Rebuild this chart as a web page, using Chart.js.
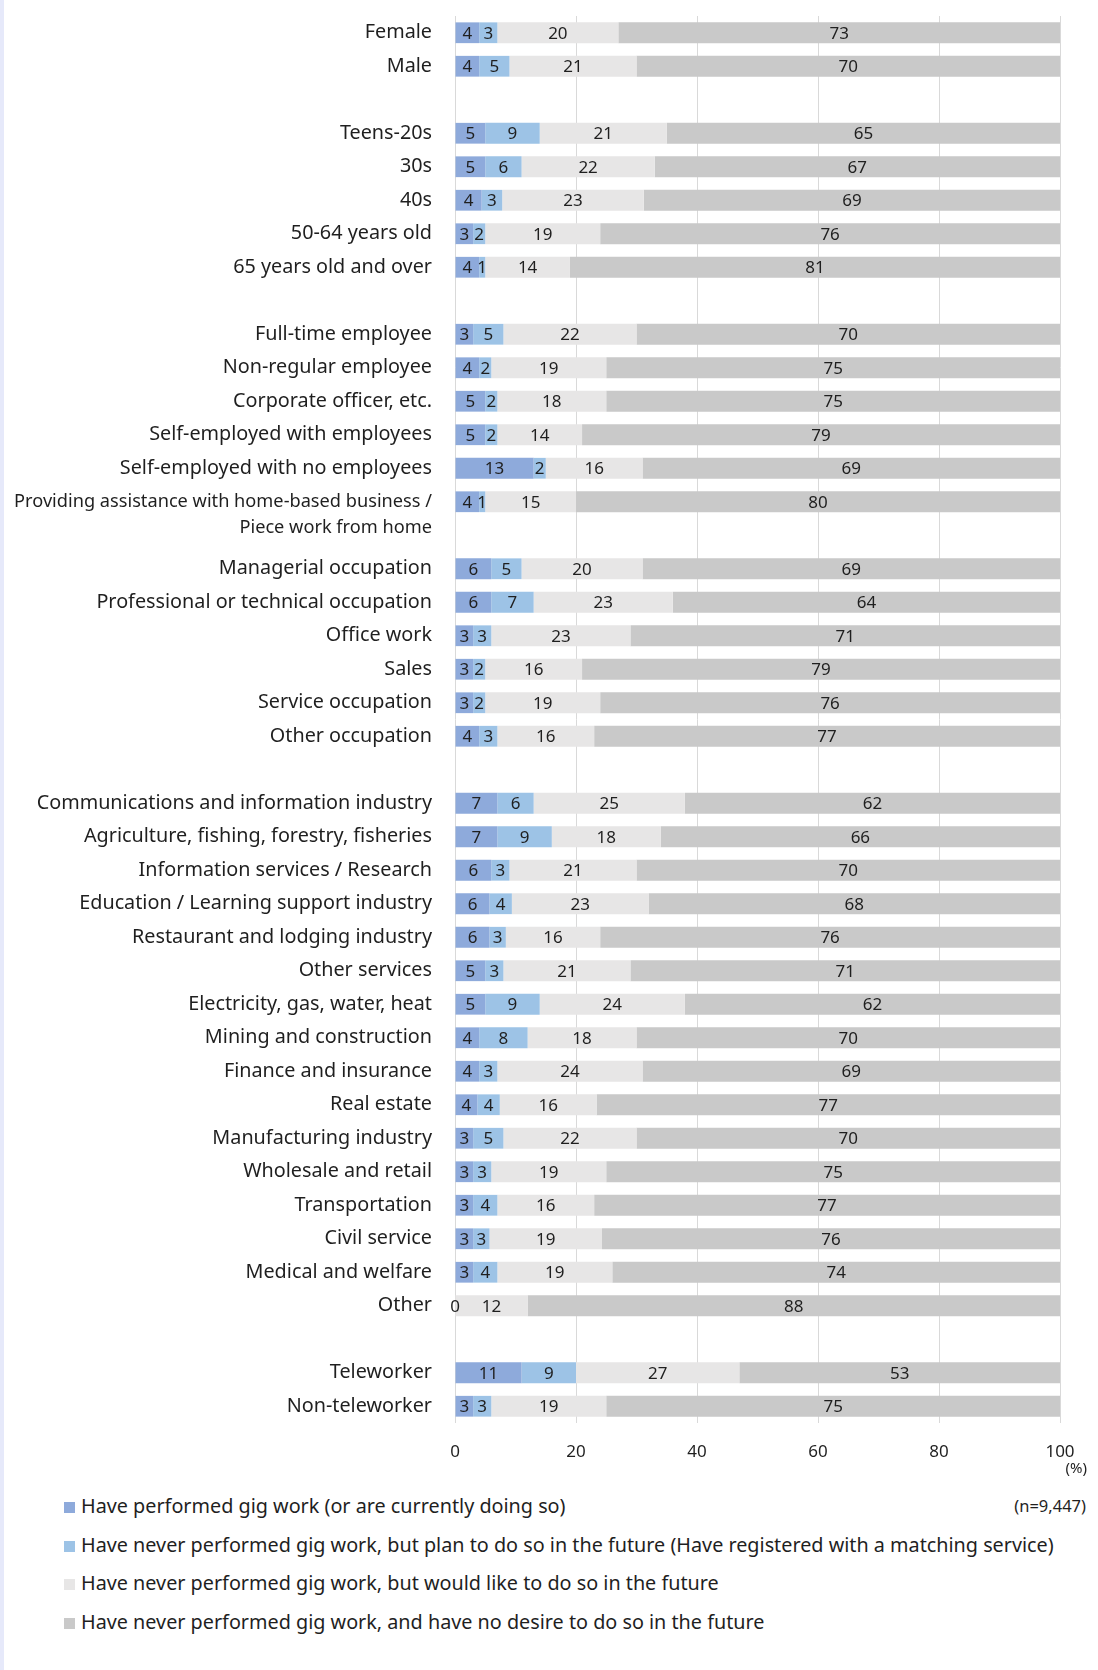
<!DOCTYPE html>
<html>
<head>
<meta charset="utf-8">
<title>Gig work experience by attribute</title>
<script src="https://cdn.jsdelivr.net/npm/chart.js@4/dist/chart.umd.min.js"></script>
<style>
    html, body {
        margin: 0;
        padding: 0;
        background: #ffffff;
        font-family: 'Noto Sans', 'Open Sans', sans-serif;
        color: #1f1f1f;
    }
    #page {
        position: relative;
        width: 1098px;
        height: 1670px;
        overflow: hidden;
    }
    #strip {
        position: absolute;
        left: 0;
        top: 0;
        width: 4px;
        height: 1670px;
        background: #e6e9fa;
    }
    #chartBox {
        position: absolute;
        left: 0;
        top: 0;
        width: 1098px;
        height: 1480px;
    }
    #unit {
        position: absolute;
        right: 11px;
        top: 1457px;
        font-size: 15px;
    }
    #nCount {
        position: absolute;
        right: 12px;
        top: 1494px;
        font-size: 16.5px;
    }
    #legend {
        position: absolute;
        left: 64px;
        top: 1487px;
        font-size: 19.8px;
    }
    .legend-item {
        height: 38.6px;
        line-height: 38.6px;
        white-space: nowrap;
    }
    .legend-box {
        display: inline-block;
        width: 11px;
        height: 11px;
        margin-right: 6px;
        vertical-align: 0px;
    }
</style>
</head>
<body>
<div id="page">
    <div id="strip"></div>
    <div id="chartBox"><canvas id="gigChart"></canvas></div>
    <div id="unit">(%)</div>
    <div id="nCount">(n=9,447)</div>
    <div id="legend"></div>
</div>

<script>
// Kategoriler (boş string = gruplar arası boşluk)
const categories = [
    'Female', 'Male',
    '',
    'Teens-20s', '30s', '40s', '50-64 years old', '65 years old and over',
    '',
    'Full-time employee', 'Non-regular employee', 'Corporate officer, etc.',
    'Self-employed with employees', 'Self-employed with no employees',
    'Providing assistance with home-based business /|Piece work from home',
    '',
    'Managerial occupation', 'Professional or technical occupation', 'Office work',
    'Sales', 'Service occupation', 'Other occupation',
    '',
    'Communications and information industry', 'Agriculture, fishing, forestry, fisheries',
    'Information services / Research', 'Education / Learning support industry',
    'Restaurant and lodging industry', 'Other services', 'Electricity, gas, water, heat',
    'Mining and construction', 'Finance and insurance', 'Real estate',
    'Manufacturing industry', 'Wholesale and retail', 'Transportation', 'Civil service',
    'Medical and welfare', 'Other',
    '',
    'Teleworker', 'Non-teleworker'
];

// Seri değerleri (%)
const performedGig = [
    4, 4, null,
    5, 5, 4.4, 3, 4, null,
    3, 4, 5, 5, 13, 4, null,
    6, 6, 3, 3, 3, 4, null,
    7, 7, 6, 5.7, 5.7, 5, 5, 4, 4, 3.7, 3, 3, 3, 3.0, 3, 0, null,
    11, 3
];
const plannedGig = [
    3, 5, null,
    9, 6, 3.4, 2, 1, null,
    5, 2, 2, 2, 2, 1, null,
    5, 7, 3, 2, 2, 3, null,
    6, 9, 3, 3.7, 2.7, 3, 9, 8, 3, 3.7, 5, 3, 4, 2.7, 4, null, null,
    9, 3
];
const wouldLikeGig = [
    20, 21, null,
    21, 22, 23.4, 19, 14, null,
    22, 19, 18, 14, 16, 15, null,
    20, 23, 23, 16, 19, 16, null,
    25, 18, 21, 22.6, 15.6, 21, 24, 18, 24, 16.0, 22, 19, 16, 18.6, 19, 12, null,
    27, 19
];
const noDesireGig = [
    73, 70, null,
    65, 67, 68.8, 76, 81, null,
    70, 75, 75, 79, 69, 80, null,
    69, 64, 71, 79, 76, 77, null,
    62, 66, 70, 68.0, 76.0, 71, 62, 70, 69, 76.6, 70, 75, 77, 75.7, 74, 88, null,
    53, 75
];

const xTicks = [0, 20, 40, 60, 80, 100];

const seriesNames = [
    'Have performed gig work (or are currently doing so)',
    'Have never performed gig work, but plan to do so in the future (Have registered with a matching service)',
    'Have never performed gig work, but would like to do so in the future',
    'Have never performed gig work, and have no desire to do so in the future'
];
const seriesColors = ['#8eaadb', '#9dc3e6', '#e7e6e6', '#c9c9c9'];

/**
 * Segment içi değer etiketleri
 */
const valueLabels = {
    id: 'valueLabels',
    afterDatasetsDraw(chart) {
        const ctx = chart.ctx;
        ctx.save();
        ctx.font = '17px "Noto Sans", sans-serif';
        ctx.fillStyle = '#1f1f1f';
        ctx.textAlign = 'center';
        ctx.textBaseline = 'middle';
        chart.data.datasets.forEach((ds, i) => {
            const meta = chart.getDatasetMeta(i);
            meta.data.forEach((bar, j) => {
                const v = ds.data[j];
                if (v === null || v === undefined) return;
                const p = bar.getProps(['x', 'base', 'y'], true);
                ctx.fillText(String(Math.round(v)), (p.x + p.base) / 2, p.y + 1);
            });
        });
        ctx.restore();
    }
};

let gigChart = null;

function createGigChart() {
    const canvas = document.getElementById('gigChart');
    const ctx = canvas.getContext('2d');

    if (gigChart) {
        gigChart.destroy();
    }

    gigChart = new Chart(ctx, {
        type: 'bar',
        data: {
            labels: categories,
            datasets: [performedGig, plannedGig, wouldLikeGig, noDesireGig].map((values, i) => ({
                label: seriesNames[i],
                data: values,
                backgroundColor: seriesColors[i],
                borderWidth: 0,
                barPercentage: 0.62,
                categoryPercentage: 1
            }))
        },
        options: {
            indexAxis: 'y',
            responsive: true,
            maintainAspectRatio: false,
            animation: false,
            layout: {
                padding: { top: 16, right: 38, left: 0, bottom: 0 }
            },
            plugins: {
                legend: { display: false },
                tooltip: { enabled: false }
            },
            scales: {
                x: {
                    stacked: true,
                    min: 0,
                    max: 100,
                    afterBuildTicks: function (scale) {
                        scale.ticks = xTicks.map(v => ({ value: v }));
                    },
                    afterFit: function (scale) {
                        scale.height = 57;
                    },
                    border: { display: false },
                    grid: {
                        color: '#d9d9d9',
                        lineWidth: 1,
                        drawTicks: false
                    },
                    ticks: {
                        color: '#1f1f1f',
                        padding: 19,
                        maxRotation: 0,
                        font: { family: 'Noto Sans', size: 17 }
                    }
                },
                y: {
                    stacked: true,
                    afterFit: function (scale) {
                        scale.width = 455;
                        // etiket yüksekliğinden gelen ekstra boşluğu kaldır
                        scale.paddingTop = 0;
                        scale.paddingBottom = 0;
                    },
                    border: { display: false },
                    grid: { display: false, drawTicks: false },
                    ticks: {
                        autoSkip: false,
                        color: '#1f1f1f',
                        padding: 23,
                        callback: function (value, index) {
                            const label = categories[index];
                            if (label.indexOf('|') >= 0) {
                                return [''].concat(label.split('|'));
                            }
                            return label;
                        },
                        font: function (context) {
                            const label = categories[context.index] || '';
                            if (label.indexOf('|') >= 0) {
                                return { family: 'Noto Sans', size: 18.2, lineHeight: 1.42 };
                            }
                            return { family: 'Noto Sans', size: 19.8 };
                        }
                    }
                }
            }
        },
        plugins: [valueLabels]
    });
}

/**
 * Legend (dikey liste)
 */
function buildLegend() {
    const box = document.getElementById('legend');
    seriesNames.forEach((name, i) => {
        const item = document.createElement('div');
        item.className = 'legend-item';
        const sw = document.createElement('span');
        sw.className = 'legend-box';
        sw.style.background = seriesColors[i];
        item.appendChild(sw);
        item.appendChild(document.createTextNode(name));
        box.appendChild(item);
    });
}

buildLegend();
createGigChart();
</script>
</body>
</html>
